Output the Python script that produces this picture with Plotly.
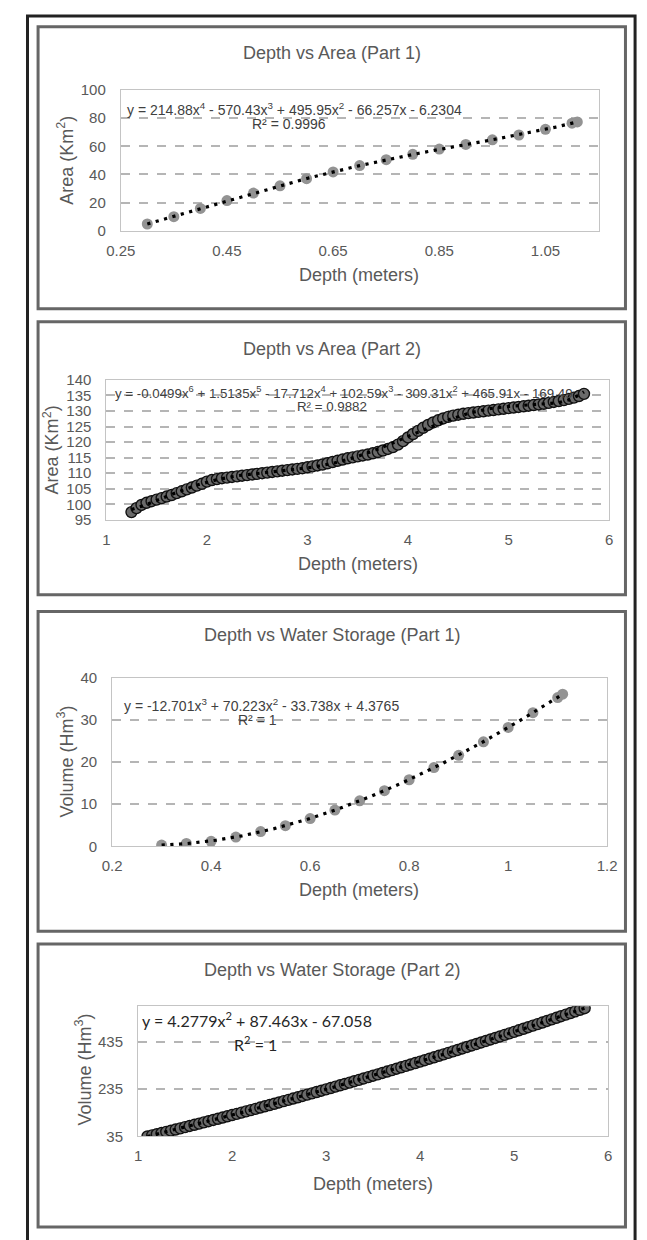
import numpy as np
import plotly.graph_objects as go

W, H = 647, 1240

# ---------------- DATA ----------------
# Panel 1: Depth vs Area (Part 1)
depth_p1 = [0.30, 0.35, 0.40, 0.45, 0.50, 0.55, 0.60, 0.65, 0.70, 0.75, 0.80, 0.85,
            0.90, 0.95, 1.00, 1.05, 1.10, 1.11]
area_p1 = [4.9, 10.1, 15.9, 21.5, 26.8, 32.0, 37.0, 41.8, 46.3, 50.5, 54.3, 58.0,
           61.3, 64.6, 68.0, 72.0, 76.4, 77.3]

# Panel 2: Depth vs Area (Part 2)
depth_p2 = [1.25, 1.30, 1.35, 1.40, 1.45, 1.50, 1.55, 1.60, 1.65, 1.70, 1.75, 1.80, 1.85, 1.90, 1.95,
            2.00, 2.05, 2.10, 2.15, 2.20, 2.25, 2.30, 2.35, 2.40, 2.45, 2.50, 2.55, 2.60, 2.65, 2.70,
            2.75, 2.80, 2.85, 2.90, 2.95, 3.00, 3.05, 3.10, 3.15, 3.20, 3.25, 3.30, 3.35, 3.40, 3.45,
            3.50, 3.55, 3.60, 3.65, 3.70, 3.75, 3.80, 3.85, 3.90, 3.95, 4.00, 4.05, 4.10, 4.15, 4.20,
            4.25, 4.30, 4.35, 4.40, 4.45, 4.50, 4.55, 4.60, 4.65, 4.70, 4.75, 4.80, 4.85, 4.90, 4.95,
            5.00, 5.05, 5.10, 5.15, 5.20, 5.25, 5.30, 5.35, 5.40, 5.45, 5.50, 5.55, 5.60, 5.65, 5.70,
            5.75]
area_p2 = [97.5, 98.8, 99.8, 100.5, 101.0, 101.5, 102.0, 102.5, 103.0, 103.6, 104.2, 104.8, 105.4, 106.0, 106.6,
           107.3, 107.8, 108.1, 108.4, 108.6, 108.8, 109.0, 109.2, 109.4, 109.6, 109.8, 110.0, 110.2, 110.4, 110.6,
           110.8, 111.0, 111.2, 111.4, 111.6, 111.9, 112.2, 112.5, 112.8, 113.2, 113.6, 114.0, 114.4, 114.8, 115.1,
           115.4, 115.7, 116.0, 116.4, 116.8, 117.3, 117.8, 118.4, 119.2, 120.3, 121.5, 122.6, 123.6, 124.6, 125.5,
           126.3, 127.0, 127.6, 128.1, 128.5, 128.8, 129.1, 129.3, 129.5, 129.7, 129.9, 130.1, 130.3, 130.5, 130.7,
           130.9, 131.1, 131.3, 131.5, 131.7, 131.9, 132.1, 132.3, 132.6, 132.9, 133.2, 133.5, 133.9, 134.3, 134.8,
           135.5]

# Panel 3: Depth vs Water Storage (Part 1)
depth_p3 = [0.30, 0.35, 0.40, 0.45, 0.50, 0.55, 0.60, 0.65, 0.70, 0.75, 0.80, 0.85,
            0.90, 0.95, 1.00, 1.05, 1.10, 1.11]
volume_p3 = [0.3, 0.7, 1.2, 2.2, 3.5, 4.9, 6.6, 8.6, 10.8, 13.2, 15.8, 18.7,
             21.6, 24.8, 28.2, 31.7, 35.3, 36.1]

# Panel 4: Depth vs Water Storage (Part 2)
depth_p4 = [1.10, 1.15, 1.20, 1.25, 1.30, 1.35, 1.40, 1.45, 1.50, 1.55, 1.60, 1.65, 1.70, 1.75, 1.80,
            1.85, 1.90, 1.95, 2.00, 2.05, 2.10, 2.15, 2.20, 2.25, 2.30, 2.35, 2.40, 2.45, 2.50, 2.55,
            2.60, 2.65, 2.70, 2.75, 2.80, 2.85, 2.90, 2.95, 3.00, 3.05, 3.10, 3.15, 3.20, 3.25, 3.30,
            3.35, 3.40, 3.45, 3.50, 3.55, 3.60, 3.65, 3.70, 3.75, 3.80, 3.85, 3.90, 3.95, 4.00, 4.05,
            4.10, 4.15, 4.20, 4.25, 4.30, 4.35, 4.40, 4.45, 4.50, 4.55, 4.60, 4.65, 4.70, 4.75, 4.80,
            4.85, 4.90, 4.95, 5.00, 5.05, 5.10, 5.15, 5.20, 5.25, 5.30, 5.35, 5.40, 5.45, 5.50, 5.55,
            5.60, 5.65, 5.70, 5.75]
volume_p4 = [34.3, 39.2, 44.1, 49.0, 53.9, 58.8, 63.8, 68.8, 73.8, 78.8, 83.8, 88.9, 94.0, 99.1, 104.2,
             109.4, 114.6, 119.8, 125.0, 130.2, 135.5, 140.8, 146.1, 151.4, 156.8, 162.1, 167.5, 172.9, 178.4, 183.8,
             189.3, 194.8, 200.3, 205.8, 211.4, 217.0, 222.6, 228.2, 233.8, 239.5, 245.2, 250.9, 256.6, 262.4, 268.2,
             274.0, 279.8, 285.6, 291.5, 297.4, 303.3, 309.2, 315.1, 321.1, 327.1, 333.1, 339.1, 345.2, 351.2, 357.3,
             363.5, 369.6, 375.8, 381.9, 388.1, 394.4, 400.6, 406.9, 413.2, 419.5, 425.8, 432.2, 438.5, 444.9, 451.3,
             457.8, 464.2, 470.7, 477.2, 483.7, 490.3, 496.8, 503.4, 510.0, 516.7, 523.3, 530.0, 536.7, 543.4, 550.1,
             556.9, 563.7, 570.5, 577.3]

# Tick values / labels
x_ticks_p1 = [0.25, 0.45, 0.65, 0.85, 1.05]
x_labels_p1 = ["0.25", "0.45", "0.65", "0.85", "1.05"]
y_ticks_p1 = [0, 20, 40, 60, 80, 100]
x_ticks_p2 = [1, 2, 3, 4, 5, 6]
y_ticks_p2 = [95, 100, 105, 110, 115, 120, 125, 130, 135, 140]
x_ticks_p3 = [0.2, 0.4, 0.6, 0.8, 1, 1.2]
x_labels_p3 = ["0.2", "0.4", "0.6", "0.8", "1", "1.2"]
y_ticks_p3 = [0, 10, 20, 30, 40]
x_ticks_p4 = [1, 2, 3, 4, 5, 6]
y_ticks_p4 = [35, 235, 435]

titles = ["Depth vs Area (Part 1)", "Depth vs Area (Part 2)",
          "Depth vs Water Storage (Part 1)", "Depth vs Water Storage (Part 2)"]
x_title = "Depth (meters)"
y_titles = ["Area (Km<sup>2</sup>)", "Area (Km<sup>2</sup>)",
            "Volume (Hm<sup>3</sup>)", "Volume (Hm<sup>3</sup>)"]
equations = [
    "y = 214.88x<sup>4</sup> - 570.43x<sup>3</sup> + 495.95x<sup>2</sup> - 66.257x - 6.2304",
    "y = -0.0499x<sup>6</sup> + 1.5135x<sup>5</sup> - 17.712x<sup>4</sup> + 102.59x<sup>3</sup> - 309.31x<sup>2</sup> + 465.91x - 169.49",
    "y = -12.701x<sup>3</sup> + 70.223x<sup>2</sup> - 33.738x + 4.3765",
    "y = 4.2779x<sup>2</sup> + 87.463x - 67.058",
]
r2_texts = ["R² = 0.9996", "R² = 0.9882", "R² = 1", "R<sup>2</sup> = 1"]
poly_orders = [4, 6, 3, 2]

# ---------------- LAYOUT HELPERS ----------------
def fx(p):
    return p / W

def fy(p):
    return 1 - p / H

FONT = "Liberation Sans, Arial, sans-serif"
TXT = "#595959"

panels = [
    dict(dx=(110, 607), dy=(82, 225), xr=[0.25, 1.15], yr=[0, 100], box=(18, 304),
         title_y=45, xt=(358, 270), yt=(53, 153), eq=(114, 101), r2=(285, 117),
         data=(depth_p1, area_p1), xticks=x_ticks_p1, yticks=y_ticks_p1,
         xtext=x_labels_p1, style="light"),
    dict(dx=(95, 618), dy=(376, 518), xr=[1, 6], yr=[95, 140], box=(317, 594),
         title_y=345, xt=(357, 563), yt=(38, 447), eq=(102, 389), r2=(330, 403),
         data=(depth_p2, area_p2), xticks=x_ticks_p2, yticks=y_ticks_p2,
         xtext=[str(v) for v in x_ticks_p2], style="dark"),
    dict(dx=(101, 616), dy=(678, 849), xr=[0.2, 1.2], yr=[0, 40], box=(611, 935),
         title_y=635, xt=(358, 893), yt=(53, 763), eq=(111, 706), r2=(252, 721),
         data=(depth_p3, volume_p3), xticks=x_ticks_p3, yticks=y_ticks_p3,
         xtext=x_labels_p3, style="light"),
    dict(dx=(128, 617), dy=(1011, 1143), xr=[1, 6], yr=[35, 586], box=(948, 1235),
         title_y=974, xt=(372, 1191), yt=(71, 1075), eq=(130, 1025), r2=(250, 1049),
         data=(depth_p4, volume_p4), xticks=x_ticks_p4, yticks=y_ticks_p4,
         xtext=[str(v) for v in x_ticks_p4], style="dark"),
]

fig = go.Figure()
annotations = []
shapes = []
layout = {}

for i, p in enumerate(panels):
    n = i + 1
    xa = "x" if n == 1 else f"x{n}"
    ya = "y" if n == 1 else f"y{n}"
    xs, ys = p["data"]

    if p["style"] == "light":
        marker = dict(size=11, color="#939393", line=dict(width=0))
    else:
        marker = dict(size=11, color="#6a6a6a", line=dict(width=1.4, color="#111111"))

    fig.add_trace(go.Scatter(x=xs, y=ys, mode="markers", marker=marker,
                             xaxis=xa, yaxis=ya, showlegend=False, hoverinfo="skip"))

    # polynomial trendline fitted to the data (as the spreadsheet does)
    poly = np.polynomial.Polynomial.fit(xs, ys, poly_orders[i])
    tx = np.linspace(min(xs), max(xs), 400)
    fig.add_trace(go.Scatter(x=tx, y=poly(tx), mode="lines",
                             line=dict(color="#000000", width=3.2, dash="3.2px,5.5px"),
                             xaxis=xa, yaxis=ya, showlegend=False, hoverinfo="skip"))

    common = dict(showline=True, mirror=True, linecolor="#c4c4c4", linewidth=1,
                  zeroline=False, ticks="outside", tickcolor="rgba(0,0,0,0)",
                  tickfont=dict(family=FONT, size=15, color=TXT), fixedrange=True)
    layout["xaxis" if n == 1 else f"xaxis{n}"] = dict(
        domain=[fx(p["dx"][0]), fx(p["dx"][1])], range=p["xr"], anchor=ya,
        tickmode="array", tickvals=p["xticks"], ticktext=p["xtext"],
        showgrid=False, ticklen=6, **common)
    layout["yaxis" if n == 1 else f"yaxis{n}"] = dict(
        domain=[fy(p["dy"][1]), fy(p["dy"][0])], range=p["yr"], anchor=xa,
        tickmode="array", tickvals=p["yticks"],
        showgrid=True, gridcolor="#b5b5b5", gridwidth=1.5, griddash="dash",
        ticklen=11, **common)

    # panel frame
    shapes.append(dict(type="rect", xref="paper", yref="paper",
                       x0=fx(24), x1=fx(635), y0=fy(p["box"][1]), y1=fy(p["box"][0]),
                       line=dict(color="#666666", width=3), layer="above"))

    # texts
    annotations.append(dict(text=titles[i], x=fx(330), y=fy(p["title_y"]), xref="paper", yref="paper",
                            showarrow=False, xanchor="center", yanchor="middle",
                            font=dict(family=FONT, size=18, color=TXT)))
    annotations.append(dict(text=x_title, x=fx(p["xt"][0]), y=fy(p["xt"][1]),
                            xref="paper", yref="paper", showarrow=False,
                            xanchor="center", yanchor="middle",
                            font=dict(family=FONT, size=18, color=TXT)))
    annotations.append(dict(text=y_titles[i], x=fx(p["yt"][0]), y=fy(p["yt"][1]),
                            xref="paper", yref="paper", showarrow=False, textangle=-90,
                            xanchor="center", yanchor="middle",
                            font=dict(family=FONT, size=18, color=TXT)))
    if n < 4:
        eq_font = dict(family=FONT, size=14 if n != 2 else 13.3, color="#404040")
    else:
        eq_font = dict(family="Lato, Carlito, Calibri, sans-serif", size=16, color="#262626")
    annotations.append(dict(text=equations[i], x=fx(p["eq"][0]), y=fy(p["eq"][1]),
                            xref="paper", yref="paper", showarrow=False,
                            xanchor="left", yanchor="middle", font=eq_font))
    annotations.append(dict(text=r2_texts[i], x=fx(p["r2"][0]), y=fy(p["r2"][1]),
                            xref="paper", yref="paper", showarrow=False,
                            xanchor="center", yanchor="middle", font=eq_font))

# outer frame
shapes.append(dict(type="rect", xref="paper", yref="paper",
                   x0=fx(13), x1=fx(645), y0=fy(1250), y1=fy(7),
                   line=dict(color="#222222", width=3), layer="above"))

fig.update_layout(
    width=W, height=H,
    margin=dict(l=0, r=0, t=0, b=0),
    paper_bgcolor="white", plot_bgcolor="white",
    showlegend=False,
    annotations=annotations, shapes=shapes,
    **layout,
)

fig.write_html("out.html", config={"displayModeBar": False},
               post_script="document.body.style.margin='0';document.body.style.overflow='hidden';")
